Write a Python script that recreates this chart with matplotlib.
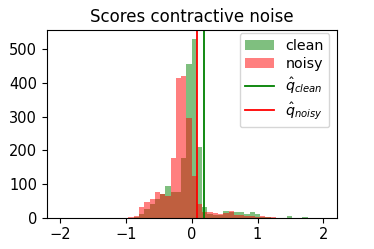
import numpy as np
import matplotlib
matplotlib.use("Agg")
import matplotlib.pyplot as plt
from matplotlib.lines import Line2D
from matplotlib.patches import Patch

# histogram bins over [-2, 2], 50 bins
bin_edges = np.linspace(-2, 2, 51)

# counts per bin (first 13 bins are empty)
clean_counts = [0] * 13 + [
    0, 2, 11, 25, 40, 55, 70, 94, 75, 77, 176, 456,
    531, 211, 33, 11, 8, 8, 21, 18, 18, 18, 11, 18, 10, 3, 1, 0, 0, 0, 6, 0, 0, 3, 0,
    0, 0,
]
noisy_counts = [0] * 13 + [
    1, 6, 31, 46, 55, 77, 70, 65, 176, 414, 422, 295,
    125, 41, 18, 18, 13, 11, 15, 20, 8, 8, 6, 6, 3, 5, 2, 1, 0, 0, 0, 0, 0, 0, 0,
    0, 0,
]

q_clean = 0.19
q_noisy = 0.076

centers = (bin_edges[:-1] + bin_edges[1:]) / 2

fig, ax = plt.subplots(figsize=(3.74, 2.49), dpi=100)
fig.subplots_adjust(left=0.125, right=0.9, bottom=0.126, top=0.88)

ax.hist(centers, bins=bin_edges, weights=clean_counts, color='green', alpha=0.5)
ax.hist(centers, bins=bin_edges, weights=noisy_counts, color='red', alpha=0.5)
ax.axvline(q_clean, color='green', linewidth=1.3)
ax.axvline(q_noisy, color='red', linewidth=1.3)

handles = [
    Patch(facecolor='green', alpha=0.5),
    Patch(facecolor='red', alpha=0.5),
    Line2D([], [], color='green', linewidth=1.3),
    Line2D([], [], color='red', linewidth=1.3),
]
labels = ['clean', 'noisy', r'$\hat{q}_{clean}$', r'$\hat{q}_{noisy}$']
ax.legend(handles, labels, loc='upper right', fontsize=10.3, labelspacing=0.3,
          bbox_to_anchor=(1.0, 1.02))

ax.set_title('Scores contractive noise', fontsize=12)
ax.tick_params(labelsize=10.5)

plt.savefig('out.png', dpi=100)
